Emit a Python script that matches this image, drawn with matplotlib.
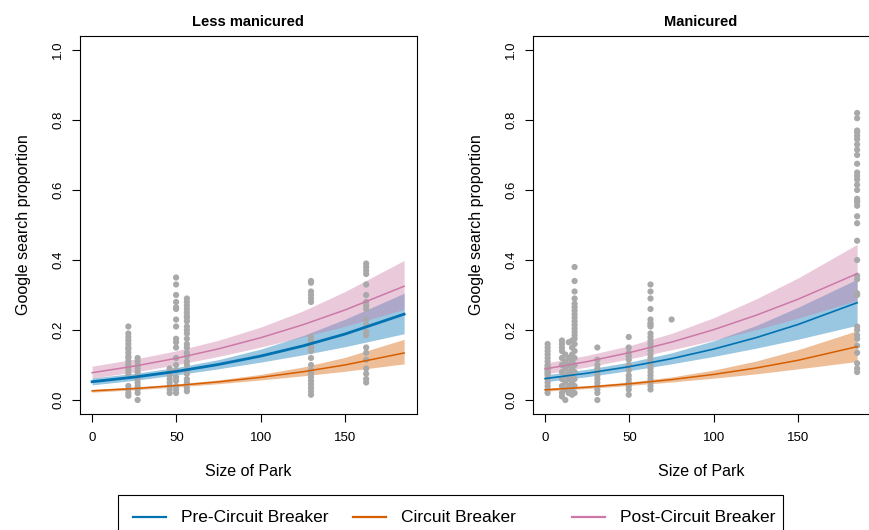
import numpy as np
import matplotlib
matplotlib.use("Agg")
import matplotlib.pyplot as plt
from matplotlib.lines import Line2D
from matplotlib.patches import Rectangle

plt.rcParams["font.family"] = ["Liberation Sans", "DejaVu Sans"]

# ---- fitted curves, x = size of park ----
fit_x = [0, 25, 50, 75, 100, 125, 150, 185]

# Less manicured
less_pre     = [0.0522, 0.0654, 0.0816, 0.1016, 0.1256, 0.1545, 0.1885, 0.2453]
less_pre_lo  = [0.0431, 0.0561, 0.0717, 0.0892, 0.1082, 0.1291, 0.1523, 0.1894]
less_pre_hi  = [0.0630, 0.0760, 0.0929, 0.1154, 0.1454, 0.1838, 0.2308, 0.3050]
less_cb      = [0.0261, 0.0328, 0.0413, 0.0518, 0.0648, 0.0807, 0.1002, 0.1344]
less_cb_lo   = [0.0223, 0.0290, 0.0371, 0.0466, 0.0573, 0.0690, 0.0820, 0.1032]
less_cb_hi   = [0.0305, 0.0372, 0.0459, 0.0575, 0.0731, 0.0943, 0.1219, 0.1733]
less_post    = [0.0780, 0.0967, 0.1192, 0.1462, 0.1780, 0.2150, 0.2573, 0.3250]
less_post_lo = [0.0627, 0.0798, 0.1007, 0.1245, 0.1512, 0.1802, 0.2108, 0.2591]
less_post_hi = [0.0967, 0.1166, 0.1406, 0.1708, 0.2083, 0.2545, 0.3100, 0.3987]

# Manicured
man_pre     = [0.0612, 0.0766, 0.0953, 0.1182, 0.1455, 0.1780, 0.2158, 0.2780]
man_pre_lo  = [0.0522, 0.0666, 0.0839, 0.1034, 0.1245, 0.1480, 0.1736, 0.2135]
man_pre_hi  = [0.0717, 0.0879, 0.1081, 0.1347, 0.1694, 0.2125, 0.2650, 0.3450]
man_cb      = [0.0290, 0.0367, 0.0463, 0.0583, 0.0731, 0.0913, 0.1135, 0.1524]
man_cb_lo   = [0.0251, 0.0327, 0.0417, 0.0515, 0.0624, 0.0746, 0.0890, 0.1100]
man_cb_hi   = [0.0336, 0.0412, 0.0514, 0.0658, 0.0855, 0.1113, 0.1437, 0.1980]
man_post    = [0.0887, 0.1098, 0.1353, 0.1655, 0.2010, 0.2419, 0.2880, 0.3610]
man_post_lo = [0.0745, 0.0943, 0.1176, 0.1434, 0.1708, 0.2006, 0.2342, 0.2844]
man_post_hi = [0.1053, 0.1276, 0.1551, 0.1904, 0.2351, 0.2885, 0.3486, 0.4446]

# ---- observed proportions: park size -> values ----
less_obs = {
    21.5: [0.21, 0.19, 0.18, 0.17, 0.16, 0.15, 0.145, 0.135, 0.125, 0.12, 0.11,
           0.10, 0.095, 0.085, 0.075, 0.04, 0.03, 0.02, 0.012],
    27.0: [0.12, 0.11, 0.10, 0.09, 0.08, 0.07, 0.06, 0.05, 0.04, 0.03, 0.02, 0.0],
    46.0: [0.09, 0.08, 0.07, 0.06, 0.05, 0.04, 0.03, 0.02],
    49.8: [0.35, 0.33, 0.30, 0.28, 0.265, 0.26, 0.23, 0.21, 0.175, 0.165, 0.15,
           0.12, 0.10, 0.085, 0.065, 0.055, 0.04, 0.03, 0.02],
    56.2: [0.29, 0.28, 0.27, 0.26, 0.25, 0.24, 0.235, 0.225, 0.21, 0.20, 0.19,
           0.175, 0.16, 0.15, 0.135, 0.125, 0.11, 0.10, 0.085, 0.075, 0.06,
           0.05, 0.035, 0.025],
    129.8: [0.34, 0.335, 0.31, 0.30, 0.29, 0.28, 0.18, 0.17, 0.16, 0.15, 0.14,
            0.12, 0.10, 0.085, 0.075, 0.065, 0.055, 0.045, 0.035, 0.025, 0.015],
    162.5: [0.39, 0.38, 0.37, 0.36, 0.33, 0.30, 0.28, 0.27, 0.26, 0.23, 0.215,
            0.195, 0.185, 0.15, 0.135, 0.115, 0.09, 0.075, 0.06, 0.05],
}
man_obs = {
    1.5: [0.16, 0.15, 0.14, 0.13, 0.12, 0.11, 0.10, 0.095, 0.09, 0.085, 0.08,
          0.075, 0.07, 0.06, 0.05, 0.04, 0.03, 0.02],
    10.0: [0.17, 0.16, 0.15, 0.14, 0.12, 0.10, 0.08, 0.06, 0.04, 0.02, 0.01],
    12.0: [0.13, 0.11, 0.09, 0.07, 0.05, 0.03, 0.0],
    14.0: [0.165, 0.12, 0.10, 0.08, 0.06, 0.04, 0.02],
    16.0: [0.17, 0.15, 0.13, 0.11, 0.09, 0.07, 0.05, 0.03, 0.015],
    17.5: [0.38, 0.34, 0.31, 0.29, 0.275, 0.265, 0.255, 0.245, 0.235, 0.225,
           0.215, 0.205, 0.195, 0.185, 0.175, 0.16, 0.14, 0.12, 0.10, 0.08,
           0.06, 0.04, 0.02],
    31.0: [0.15, 0.115, 0.10, 0.09, 0.08, 0.07, 0.06, 0.05, 0.04, 0.03, 0.02, 0.0],
    49.6: [0.18, 0.15, 0.135, 0.125, 0.115, 0.10, 0.085, 0.07, 0.06, 0.05,
           0.04, 0.03, 0.015],
    62.5: [0.33, 0.31, 0.29, 0.26, 0.23, 0.22, 0.215, 0.21, 0.19, 0.18, 0.17,
           0.16, 0.15, 0.14, 0.13, 0.12, 0.11, 0.10, 0.09, 0.08, 0.07, 0.06,
           0.05, 0.04, 0.03],
    75.0: [0.23],
    185.0: [0.82, 0.805, 0.77, 0.765, 0.755, 0.745, 0.73, 0.715, 0.70, 0.675,
            0.65, 0.64, 0.63, 0.615, 0.60, 0.575, 0.57, 0.565, 0.555, 0.525,
            0.505, 0.455, 0.40, 0.355, 0.345, 0.305, 0.30, 0.21, 0.20, 0.185,
            0.175, 0.155, 0.135, 0.105, 0.09, 0.08],
}

labels = ["Pre-Circuit Breaker", "Circuit Breaker", "Post-Circuit Breaker"]
colors = ["#0072B2", "#D55E00", "#CC79A7"]

panels = [
    ("Less manicured", less_obs,
     [(less_pre, less_pre_lo, less_pre_hi),
      (less_cb, less_cb_lo, less_cb_hi),
      (less_post, less_post_lo, less_post_hi)], 2.0),
    ("Manicured", man_obs,
     [(man_pre, man_pre_lo, man_pre_hi),
      (man_cb, man_cb_lo, man_cb_hi),
      (man_post, man_post_lo, man_post_hi)], 1.2),
]

fig = plt.figure(figsize=(8.7, 5.3), dpi=100)
lefts = [79.6 / 870, 532.6 / 870]

for left, (title, obs, fits, pre_lw) in zip(lefts, panels):
    ax = fig.add_axes([left, 116 / 530, 337 / 870, 378 / 530])
    # confidence bands first, then raw points, then fitted lines
    for (mid, lo, hi), c in zip(fits, colors):
        ax.fill_between(fit_x, lo, hi, color=c, alpha=0.4, linewidth=0)
    px = np.concatenate([[k] * len(v) for k, v in obs.items()])
    py = np.concatenate([v for v in obs.values()])
    ax.scatter(px, py, s=20, color="#A9A9A9", edgecolors="none", zorder=3)
    for i, ((mid, lo, hi), c) in enumerate(zip(fits, colors)):
        ax.plot(fit_x, mid, color=c, lw=pre_lw if i == 0 else 1.1, zorder=4)

    ax.set_xlim(-7.4, 192.4)
    ax.set_ylim(-0.04, 1.04)
    ax.set_xticks([0, 50, 100, 150])
    ax.set_yticks([0.0, 0.2, 0.4, 0.6, 0.8, 1.0])
    ax.set_yticklabels(["0.0", "0.2", "0.4", "0.6", "0.8", "1.0"],
                       rotation=90, va="center")
    ax.tick_params(direction="out", length=6, width=0.8, labelsize=9.5)
    ax.tick_params(axis="x", pad=7)
    ax.tick_params(axis="y", pad=5)
    for sp in ax.spines.values():
        sp.set_linewidth(0.8)
    ax.set_title(title, fontsize=10.5, fontweight="bold", pad=7)
    ax.set_xlabel("Size of Park", fontsize=11.5)
    ax.set_ylabel("Google search proportion", fontsize=11.5)
    ax.xaxis.set_label_coords(0.5, -0.133)
    ax.yaxis.set_label_coords(-0.145, 0.5)

# legend box along the bottom (runs off the figure edge like the original)
fig.add_artist(Rectangle((118 / 870, -0.05), 665 / 870, 0.05 + 35 / 530,
                         transform=fig.transFigure, fill=False,
                         edgecolor="black", linewidth=0.8))
ly = 13 / 530
for x0, lab, c in zip([133, 353, 572], labels, colors):
    fig.add_artist(Line2D([x0 / 870, (x0 + 33) / 870], [ly, ly],
                          transform=fig.transFigure, color=c, lw=1.6))
    fig.text((x0 + 48) / 870, ly, lab, fontsize=12.5, va="center", ha="left")

fig.savefig("out.png", dpi=100)
